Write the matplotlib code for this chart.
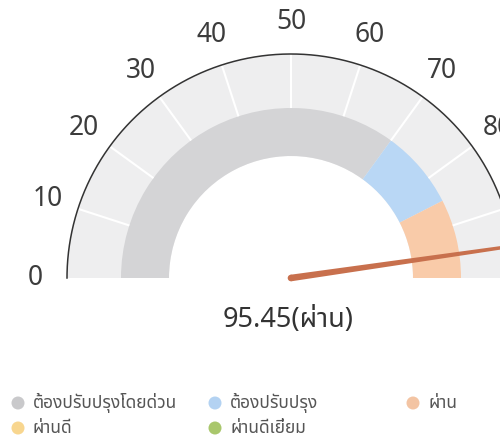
import numpy as np
import matplotlib
matplotlib.use("Agg")
import matplotlib.pyplot as plt
from matplotlib.patches import Wedge, Polygon, Circle

# ---- data -----------------------------------------------------------------
categories = ["ต้องปรับปรุงโดยด่วน", "ต้องปรับปรุง", "ผ่าน", "ผ่านดี", "ผ่านดีเยี่ยม"]
legend_colors = ["#c9c9cb", "#b3d2f2", "#f3c4a3", "#f8d68f", "#a9c76c"]
band_colors = ["#d4d4d6", "#b9d7f5", "#f9cba9"]
band_start = [0, 70, 85]
band_end = [70, 85, 100]
tick_values = list(range(0, 101, 10))
label_values = tick_values[:9]   # 90 and 100 lie outside the cropped picture
score = 95.45
result = "ผ่าน"

plt.rcParams["font.family"] = ["Noto Sans", "Noto Sans Thai", "DejaVu Sans"]

# ---- geometry (pixel-like data coords, y up) ------------------------------
cx, cy = 291, 162
r_in, r_mid, r_out = 122, 170, 224


def ang(v):
    return 180 - v * 1.8


fig = plt.figure(figsize=(5, 4.4), dpi=100)
ax = fig.add_axes([0, 0, 1, 1])
ax.set_xlim(0, 500)
ax.set_ylim(0, 440)
ax.set_aspect("equal")
ax.axis("off")

# light background band + white separators
ax.add_patch(Wedge((cx, cy), r_out, 0, 180, width=r_out - r_in,
                   facecolor="#eeeeef", edgecolor="none"))
for v in tick_values[1:-1]:
    a = np.radians(ang(v))
    ax.plot([cx + r_mid * np.cos(a), cx + r_out * np.cos(a)],
            [cy + r_mid * np.sin(a), cy + r_out * np.sin(a)],
            color="white", lw=1.5, solid_capstyle="butt")

# coloured category band
for s, e, c in zip(band_start, band_end, band_colors):
    ax.add_patch(Wedge((cx, cy), r_mid, ang(e), ang(s), width=r_mid - r_in,
                       facecolor=c, edgecolor="none"))

# outer arc
t = np.linspace(0, np.pi, 300)
ax.plot(cx + r_out * np.cos(t), cy + r_out * np.sin(t), color="#333333", lw=1.1)

# tick labels
for v in label_values:
    a = np.radians(ang(v))
    ax.text(cx + 256 * np.cos(a), cy + 256 * np.sin(a), str(v),
            ha="center", va="center", fontsize=19, color="#3c3c3c")

# needle (tapered)
a = np.radians(ang(score))
L, w0, w1 = 245, 3.3, 1.5
ux, uy = np.cos(a), np.sin(a)
px, py = -uy, ux
needle = [(cx + px * w0, cy + py * w0), (cx + ux * L + px * w1, cy + uy * L + py * w1),
          (cx + ux * L - px * w1, cy + uy * L - py * w1), (cx - px * w0, cy - py * w0)]
ax.add_patch(Polygon(needle, closed=True, facecolor="#c8704d", edgecolor="none"))
ax.add_patch(Circle((cx, cy), w0, facecolor="#c8704d", edgecolor="none"))

# value text
ax.text(cx - 3, 120, f"{score:.2f}({result})", ha="center", va="center",
        fontsize=19.5, color="#333333")

# legend (3 columns, filled row-wise)
col_x = [18, 215, 413]
row_y = [37, 12]
for i, (lab, c) in enumerate(zip(categories, legend_colors)):
    x, y = col_x[i % 3], row_y[i // 3]
    ax.add_patch(Circle((x, y), 6.5, facecolor=c, edgecolor="none"))
    ax.text(x + 15, y, lab, ha="left", va="center", fontsize=12.5, color="#555555")

fig.savefig("out.png", dpi=100)
